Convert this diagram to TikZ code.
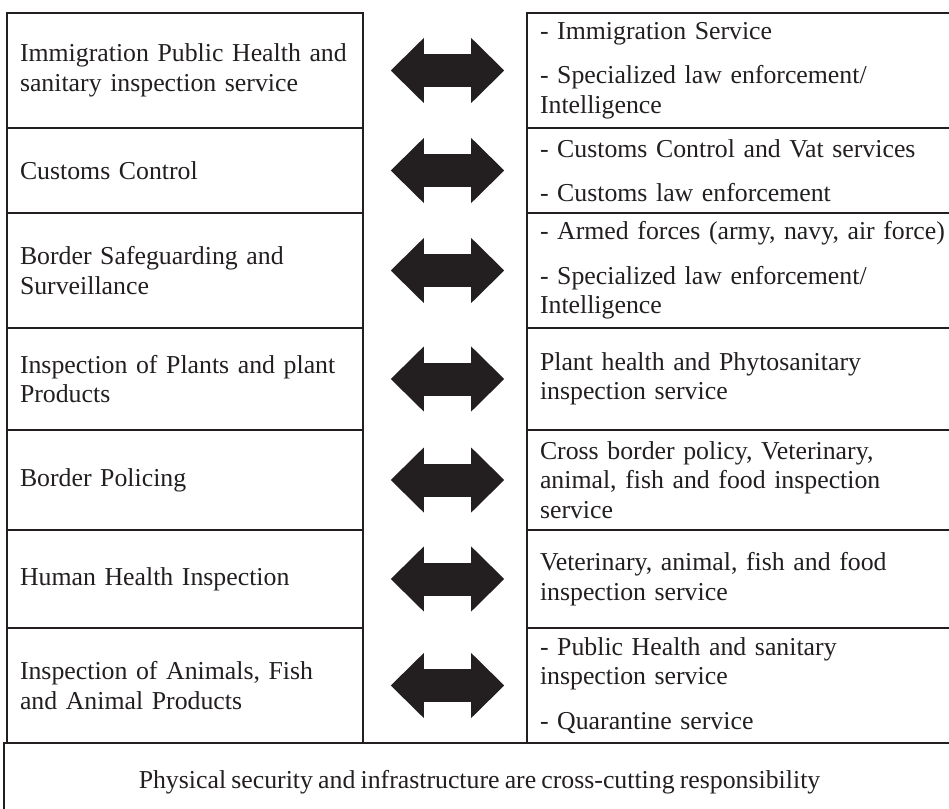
\documentclass[tikz,border=0pt]{standalone}
\usepackage{fontspec}
\setmainfont[WordSpace=0.8]{Liberation Serif}
\usetikzlibrary{arrows.meta}
\definecolor{inkblack}{HTML}{231F20}
\tikzset{
  lbox/.style={draw=inkblack, line width=1.6pt, text width=330pt, inner xsep=13pt, inner ysep=0pt, align=left, minimum height=#1 pt},
  rbox/.style={draw=inkblack, line width=1.6pt, text width=430pt, inner xsep=13pt, inner ysep=0pt, align=left, minimum height=#1 pt},
  bigtip/.tip={Triangle[length=33pt,width=65pt,line width=0pt]},
  dblarrow/.style={line width=33pt, {bigtip}-{bigtip}, shorten <=27pt, shorten >=22pt}
}
\begin{document}
\begin{tikzpicture}[x=1pt,y=-1pt,font=\fontsize{25.8}{29.5}\selectfont, color=inkblack]
\fill[white] (0,0) rectangle (949,808);
\useasboundingbox (0,0) rectangle (949,808);
\node[lbox=115] (l1) at (185,70.5) {Immigration Public Health and\\sanitary inspection service};
\node[lbox=85] (l2) at (185,170.5) {Customs Control};
\node[lbox=115] (l3) at (185,270.5) {Border Safeguarding and\\Surveillance};
\node[lbox=102] (l4) at (185,379) {Inspection of Plants and plant\\Products};
\node[lbox=100] (l5) at (185,480) {Border Policing};
\node[lbox=98] (l6) at (185,579) {Human Health Inspection};
\node[lbox=115] (l7) at (185,685.5) {Inspection of Animals, Fish\\and Animal Products};
\node[rbox=115] (r1) at (755,70.5) {- Immigration Service\\[15pt]- Specialized law enforcement/\\Intelligence};
\node[rbox=85] (r2) at (755,170.5) {- Customs Control and Vat services\\[15pt]- Customs law enforcement};
\node[rbox=115] (r3) at (755,270.5) {- Armed forces (army, navy, air force)\\[15pt]- Specialized law enforcement/\\Intelligence};
\node[rbox=102] (r4) at (755,379) {Plant health and Phytosanitary\\inspection service};
\node[rbox=100] (r5) at (755,480) {Cross border policy, Veterinary,\\animal, fish and food inspection\\service};
\node[rbox=98] (r6) at (755,579) {Veterinary, animal, fish and food\\inspection service};
\node[rbox=115] (r7) at (755,685.5) {- Public Health and sanitary\\inspection service\\[15pt]- Quarantine service};
\node[draw=inkblack, line width=1.6pt, minimum width=951pt, minimum height=78pt] (foot) at (479.5,782) {Physical security and infrastructure are cross-cutting responsibility};
\foreach \i in {1,...,7} \draw[dblarrow] (l\i.east) -- (r\i.west);
\end{tikzpicture}
\end{document}
